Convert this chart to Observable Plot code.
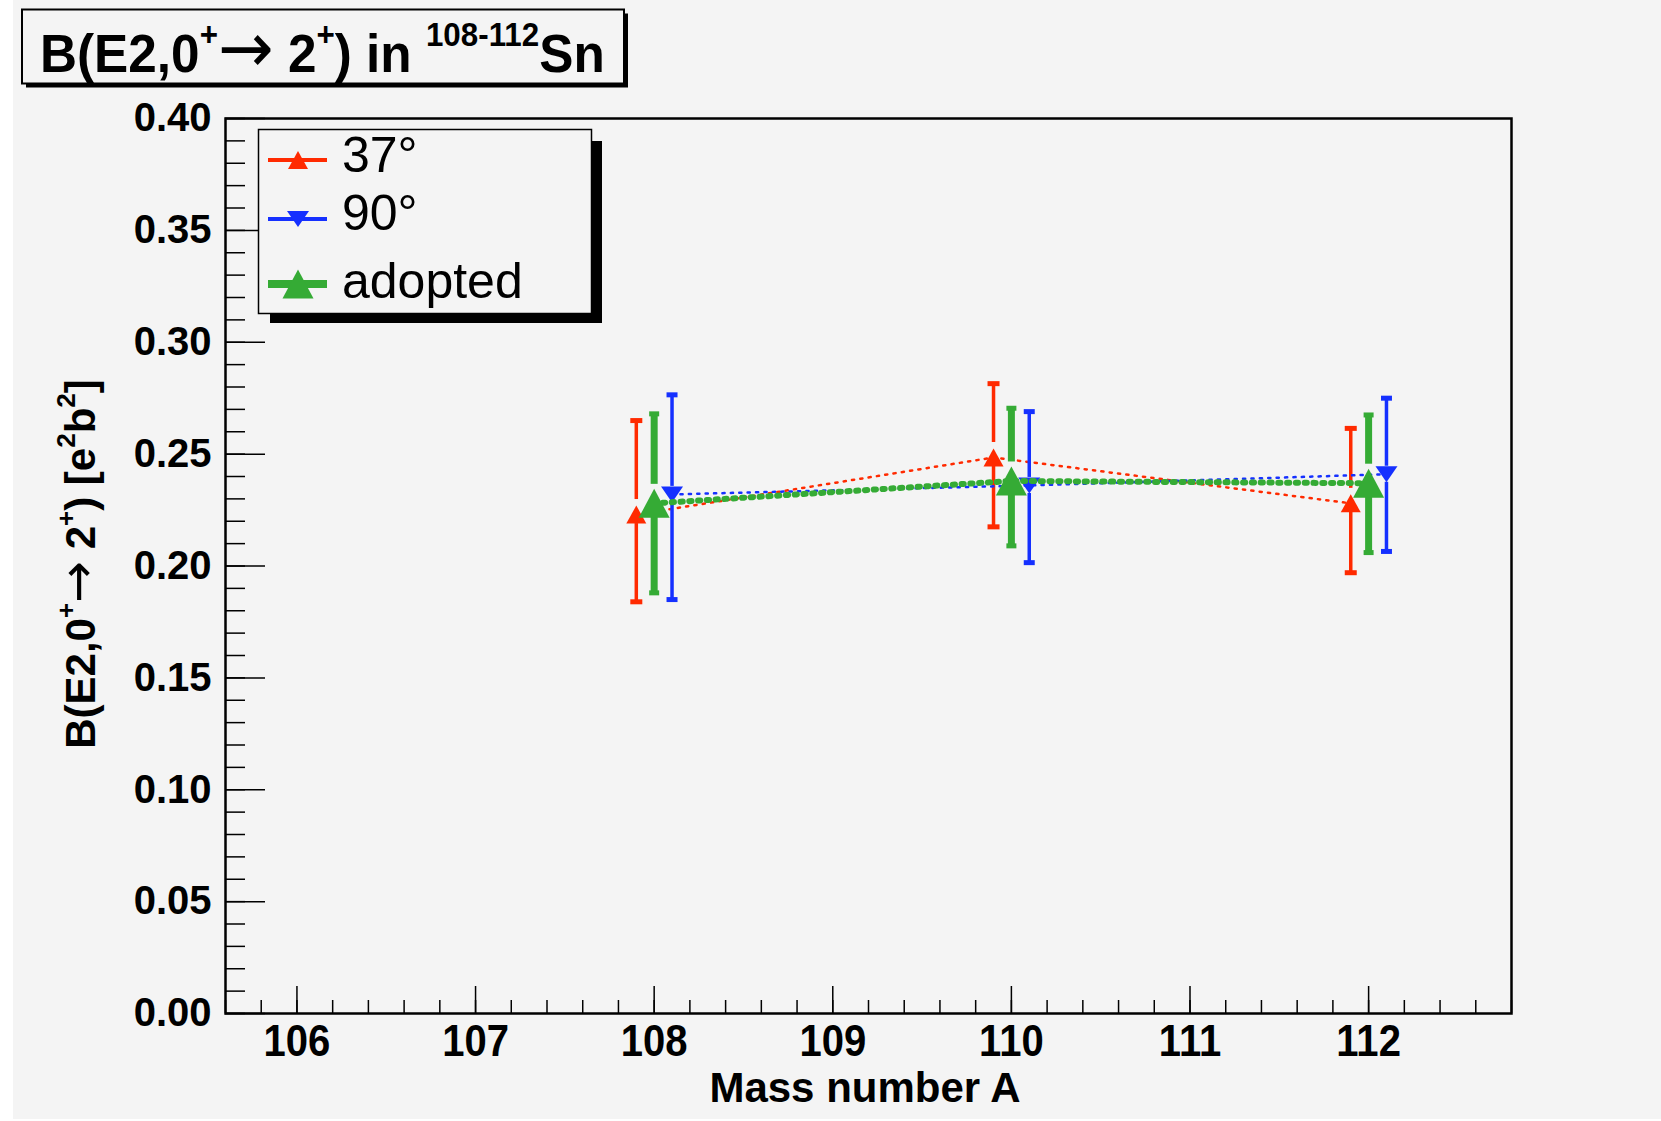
<!DOCTYPE html>
<html><head><meta charset="utf-8">
<script src="https://cdn.jsdelivr.net/npm/d3@7"></script>
<script src="https://cdn.jsdelivr.net/npm/@observablehq/plot@0.6"></script>
<style>
html,body{margin:0;padding:0;background:#ffffff;}
#chart{position:relative;width:1661px;height:1121px;}
</style></head><body><div id="chart"></div>
<script>
// ---- data ----
const massNumbers = [108, 110, 112];
const seriesNames = ["37°", "90°", "adopted"];
const val37 = [0.223, 0.2485, 0.228];
const lo37  = [0.184, 0.2175, 0.197];
const hi37  = [0.265, 0.2815, 0.2615];
const val90 = [0.232, 0.236, 0.241];
const lo90  = [0.185, 0.2015, 0.2065];
const hi90  = [0.2765, 0.269, 0.275];
const valAd = [0.228, 0.238, 0.237];
const loAd  = [0.188, 0.209, 0.206];
const hiAd  = [0.268, 0.2705, 0.2675];
const xTicks = [106, 107, 108, 109, 110, 111, 112];
const yTicks = [0, 0.05, 0.10, 0.15, 0.20, 0.25, 0.30, 0.35, 0.40];
const xDomain = [105.6, 112.8];
const yDomain = [0, 0.40];

// ---- styles ----
const W = 1661, H = 1121;
const mL = 225, mR = 150, mT = 118, mB = 108;
const plotW = W - mL - mR, plotH = H - mT - mB;
const BG = "#f4f4f4";
const FONT = "'Liberation Sans', Arial, Helvetica, sans-serif";

const triUp = (w, h) => ({draw(c) { c.moveTo(0, -h / 2); c.lineTo(w / 2, h / 2); c.lineTo(-w / 2, h / 2); c.closePath(); }});
const triDown = (w, h) => ({draw(c) { c.moveTo(0, h / 2); c.lineTo(w / 2, -h / 2); c.lineTo(-w / 2, -h / 2); c.closePath(); }});
const rectSym = (w, h) => ({draw(c) { c.rect(-w / 2, -h / 2, w, h); }});

const series = [
  {name: seriesNames[0], vals: val37, lo: lo37, hi: hi37, color: "#ff2a00", dx: -0.1,
   sym: triUp(20, 18), bar: 3.5, cap: rectSym(12, 5), gapA: 15, gapB: 9, lineW: 2.5, dash: "2.2,6.2", legW: 4},
  {name: seriesNames[1], vals: val90, lo: lo90, hi: hi90, color: "#1530ff", dx: 0.1,
   sym: triDown(22, 16), bar: 3.5, cap: rectSym(11, 5), gapA: 8, gapB: 8, lineW: 2.5, dash: "2.2,6.2", legW: 4},
  {name: seriesNames[2], vals: valAd, lo: loAd, hi: hiAd, color: "#35ab35", dx: 0,
   sym: triUp(31, 29), bar: 7, cap: rectSym(10, 5), gapA: 19, gapB: 14, lineW: 6, dash: "2.2,6.6", legW: 8}
];

const marks = [];
for (const s of series) {
  const rows = massNumbers.map((a, i) => ({x: a + s.dx, y: s.vals[i], lo: s.lo[i], hi: s.hi[i]}));
  marks.push(
    Plot.line(rows, {x: "x", y: "y", stroke: s.color, strokeWidth: s.lineW, strokeDasharray: s.dash}),
    Plot.ruleX(rows, {x: "x", y1: "hi", y2: "y", insetBottom: s.gapA, stroke: s.color, strokeWidth: s.bar}),
    Plot.ruleX(rows, {x: "x", y1: "y", y2: "lo", insetTop: s.gapB, stroke: s.color, strokeWidth: s.bar}),
    Plot.dot(rows, {x: "x", y: "hi", symbol: s.cap, fill: s.color, stroke: "none"}),
    Plot.dot(rows, {x: "x", y: "lo", symbol: s.cap, fill: s.color, stroke: "none"}),
    Plot.dot(rows, {x: "x", y: "y", symbol: s.sym, fill: s.color, stroke: "none"})
  );
}

const yMinor = d3.range(0, 0.4001, 0.01);
const xMinor = d3.range(105.6, 112.81, 0.2);

const plot = Plot.plot({
  width: W, height: H,
  marginLeft: mL, marginRight: mR, marginTop: mT, marginBottom: mB,
  style: {background: BG, fontFamily: FONT, overflow: "visible"},
  x: {domain: xDomain},
  y: {domain: yDomain},
  marks: [
    Plot.tickY(yMinor, {y: d => d, stroke: "black", strokeWidth: 1.5, insetRight: plotW - 20}),
    Plot.tickY(yTicks, {y: d => d, stroke: "black", strokeWidth: 1.5, insetRight: plotW - 40}),
    Plot.tickX(xMinor, {x: d => d, stroke: "black", strokeWidth: 1.5, insetTop: plotH - 13}),
    Plot.tickX(xTicks, {x: d => d, stroke: "black", strokeWidth: 1.5, insetTop: plotH - 27}),
    Plot.axisY(yTicks, {tickSize: 0, tickPadding: 14, tickFormat: d3.format(".2f"), fontSize: 40, fontWeight: "bold", fill: "black", label: null}),
    Plot.axisX(xTicks, {tickSize: 0, tickPadding: 11, tickFormat: d => String(d), fontSize: 44, fontWeight: "bold", fill: "black", label: null}),
    ...marks,
    Plot.frame({stroke: "black", strokeWidth: 2.5})
  ]
});

document.getElementById("chart").appendChild(plot);
const svg = d3.select(plot);

// condensed look for x tick labels
svg.selectAll('g[aria-label="x-axis tick label"] text').each(function() {
  const t = this.getAttribute("transform") || "";
  this.setAttribute("transform", t + " scale(0.91,1)");
});

const ov = svg.append("g").attr("font-family", FONT).attr("text-anchor", "start");
// white margins of the canvas
ov.append("rect").attr("x", 0).attr("y", 0).attr("width", 13).attr("height", H).attr("fill", "#fff");
ov.append("rect").attr("x", 0).attr("y", H - 2).attr("width", W).attr("height", 2).attr("fill", "#fff");

// helper to write text with superscripts
function richText(g, parts, size, supSize, supShift, arrowSize) {
  const t = g.append("text").attr("font-size", size).attr("font-weight", "bold").attr("fill", "black");
  let up = false;
  for (const [str, kind] of parts) {
    const ts = t.append("tspan").text(str);
    if (kind === "sup") {
      ts.attr("font-size", supSize).attr("dy", up ? 0 : -supShift);
      up = true;
    } else {
      if (up) ts.attr("dy", supShift);
      up = false;
      if (kind === "arrow") ts.attr("font-weight", "normal").attr("font-family", "'DejaVu Sans', sans-serif").attr("font-size", arrowSize);
    }
  }
  return t;
}

// title box
ov.append("rect").attr("x", 26).attr("y", 13.5).attr("width", 602).attr("height", 74).attr("fill", "black");
ov.append("rect").attr("x", 22).attr("y", 9.5).attr("width", 602).attr("height", 74).attr("fill", BG).attr("stroke", "black").attr("stroke-width", 2);
const tg = ov.append("g").attr("transform", "translate(40,72) scale(0.95,1)");
richText(tg, [["B(E2,0", ""], ["+", "sup"], ["\u2192", "arrow"], [" 2", ""], ["+", "sup"], [") in ", ""], ["108-112", "sup"], ["Sn", ""]], 54, 33, 26, 70);

// axis titles
const xt = ov.append("g").attr("transform", "translate(865,1102)");
xt.append("text").attr("text-anchor", "middle").attr("font-size", 42).attr("font-weight", "bold").text("Mass number A");

const yt = ov.append("g").attr("transform", "translate(95,564) rotate(-90)");
richText(yt, [["B(E2,0", ""], ["+", "sup"], ["\u2192", "arrow"], [" 2", ""], ["+", "sup"], [") [e", ""], ["2", "sup"], ["b", ""], ["2", "sup"], ["]", ""]], 42, 26, 20, 50)
  .attr("text-anchor", "middle");

// legend
const lg = ov.append("g");
lg.append("rect").attr("x", 270).attr("y", 141).attr("width", 332).attr("height", 182).attr("fill", "black");
lg.append("rect").attr("x", 258.5).attr("y", 129.5).attr("width", 333).attr("height", 184).attr("fill", BG).attr("stroke", "black").attr("stroke-width", 1.5);
const legY = [160, 219, 284];
const legBase = [171.7, 230, 298.3];
series.forEach((s, i) => {
  lg.append("line").attr("x1", 268).attr("x2", 327).attr("y1", legY[i]).attr("y2", legY[i])
    .attr("stroke", s.color).attr("stroke-width", s.legW);
  const p = d3.path(); s.sym.draw(p);
  lg.append("path").attr("d", p.toString()).attr("transform", `translate(298,${legY[i]})`).attr("fill", s.color);
  lg.append("text").attr("x", 342).attr("y", legBase[i]).attr("font-size", 50).attr("fill", "black").text(s.name);
});
</script></body></html>
